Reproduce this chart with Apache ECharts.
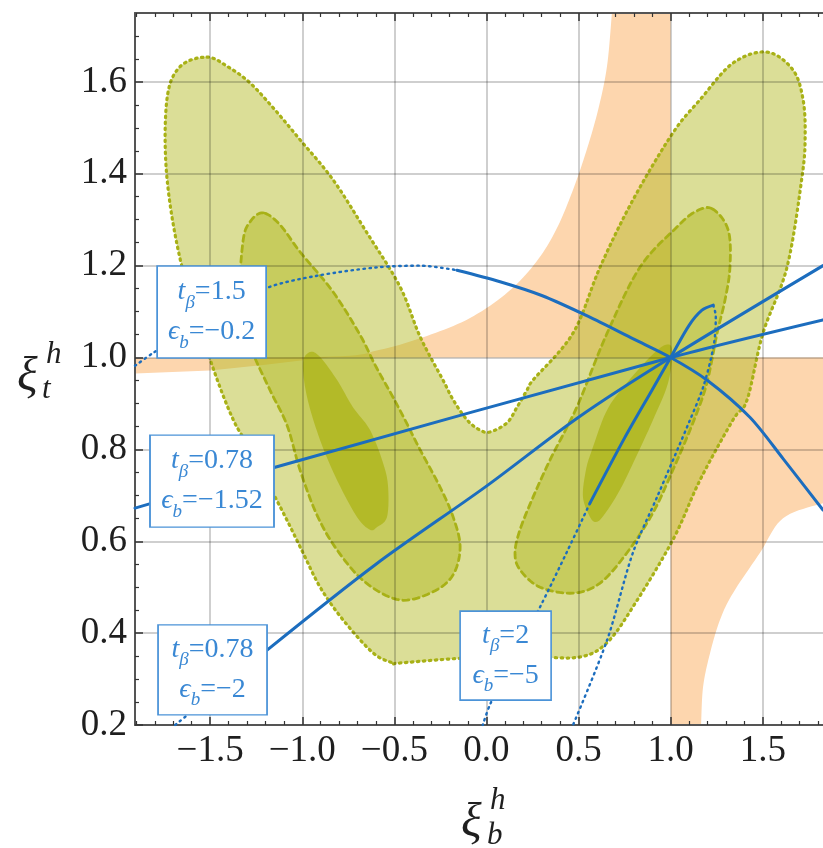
<!DOCTYPE html>
<html><head><meta charset="utf-8">
<script src="https://cdn.jsdelivr.net/npm/echarts@6/dist/echarts.min.js"></script>
<style>html,body{margin:0;padding:0;background:#fff}#c{width:823px;height:848px}</style>
</head><body><div id="c"></div>
<script>
// ---------- axis ranges and ticks ----------
const X_MIN = -1.908, X_MAX = 1.827, Y_MIN = 0.2, Y_MAX = 1.75;
const xMajorTicks = [-1.5, -1, -0.5, 0, 0.5, 1, 1.5];
const xMinorTicks = [-1.9,-1.8,-1.7,-1.6,-1.4,-1.3,-1.2,-1.1,-0.9,-0.8,-0.7,-0.6,-0.4,-0.3,-0.2,-0.1,0.1,0.2,0.3,0.4,0.6,0.7,0.8,0.9,1.1,1.2,1.3,1.4,1.6,1.7,1.8];
const yMajorTicks = [0.2, 0.4, 0.6, 0.8, 1.0, 1.2, 1.4, 1.6];
const yMinorTicks = [0.25,0.3,0.35,0.45,0.5,0.55,0.65,0.7,0.75,0.85,0.9,0.95,1.05,1.1,1.15,1.25,1.3,1.35,1.45,1.5,1.55,1.65,1.7];

// ---------- orange bands (straight edges + curved edge) ----------
const orangeUpperEdge = [[-1.908,0.965],[-1.5,0.972],[-1.2,0.984],[-0.95,0.996],[-0.85,1.0],[1.0,1.0],[1.0,1.8],[0.69,1.8]];
const orangeUpperCurve = [[0.69,1.8],[0.681,1.750],[0.654,1.633],[0.606,1.539],[0.541,1.448],[0.465,1.360],[0.378,1.278],
  [0.270,1.208],[0.118,1.143],[-0.089,1.086],[-0.323,1.047],[-0.578,1.017],[-0.849,1.002],[-1.908,0.999]];
const orangeLowerEdge = [[1.0,0.15],[1.0,1.0],[1.95,1.0],[1.95,0.695]];
const orangeLowerCurve = [[1.95,0.695],[1.827,0.683],[1.61,0.650],[1.485,0.575],[1.338,0.487],[1.268,0.429],
  [1.214,0.357],[1.176,0.283],[1.165,0.2],[1.16,0.15]];

// ---------- green confidence regions ----------
const outerRegion = [[-1.517,1.654],[-1.40,1.632],[-1.284,1.598],[-1.15,1.54],[-1.012,1.474],[-0.833,1.387],[-0.648,1.271],
  [-0.469,1.154],[-0.36,1.045],[-0.236,0.951],[-0.181,0.908],[-0.105,0.864],[-0.035,0.842],[0.02,0.838],[0.112,0.858],
  [0.166,0.892],[0.22,0.929],[0.253,0.951],[0.47,1.053],[0.617,1.197],[0.795,1.343],[1.012,1.489],[1.159,1.561],
  [1.338,1.641],[1.523,1.665],[1.664,1.626],[1.719,1.561],[1.73,1.48],[1.713,1.393],[1.632,1.197],[1.501,1.053],
  [1.415,0.908],[1.338,0.864],[1.159,0.733],[1.012,0.603],[0.795,0.457],[0.654,0.379],[0.508,0.348],[0.253,0.348],
  [-0.105,0.346],[-0.469,0.335],[-0.507,0.335],[-0.616,0.357],[-0.779,0.429],[-0.903,0.500],[-0.996,0.575],
  [-1.083,0.646],[-1.175,0.718],[-1.265,0.792],[-1.374,0.864],[-1.501,0.997],[-1.653,1.197],[-1.735,1.393],
  [-1.735,1.561],[-1.664,1.633]];
const middleLeft = [[-1.213,1.315],[-1.284,1.295],[-1.322,1.252],[-1.338,1.125],[-1.284,1.027],[-1.175,0.929],
  [-1.083,0.853],[-1.012,0.755],[-0.920,0.657],[-0.811,0.581],[-0.659,0.511],[-0.469,0.472],[-0.290,0.490],
  [-0.181,0.527],[-0.143,0.588],[-0.181,0.653],[-0.252,0.718],[-0.360,0.799],[-0.442,0.864],[-0.508,0.914],
  [-0.605,0.984],[-0.686,1.049],[-0.833,1.143],[-1.012,1.230],[-1.121,1.289]];
const middleRight = [[1.225,1.324],[1.312,1.278],[1.322,1.197],[1.295,1.125],[1.252,1.053],[1.197,0.945],
  [1.127,0.864],[1.012,0.755],[0.904,0.662],[0.763,0.575],[0.617,0.509],[0.470,0.487],[0.291,0.500],[0.182,0.538],
  [0.155,0.575],[0.182,0.625],[0.253,0.696],[0.345,0.777],[0.438,0.849],[0.508,0.908],[0.655,1.053],[0.834,1.197],
  [1.034,1.284],[1.132,1.317]];
const innerLeft = [[-0.957,1.012],[-0.996,0.988],[-0.974,0.914],[-0.903,0.820],[-0.811,0.733],[-0.703,0.653],
  [-0.632,0.625],[-0.594,0.631],[-0.540,0.653],[-0.534,0.718],[-0.561,0.770],[-0.632,0.842],[-0.725,0.892],
  [-0.811,0.951],[-0.903,1.001]];
const innerRight = [[0.562,0.653],[0.524,0.696],[0.540,0.755],[0.573,0.799],[0.655,0.886],[0.763,0.945],
  [0.888,1.001],[0.969,1.027],[1.008,1.016],[0.986,0.945],[0.904,0.864],[0.817,0.788],[0.725,0.712],
  [0.638,0.657],[0.595,0.642]];

// ---------- blue parameter curves ----------
const curveA = [[-0.16,1.19],[0.074,1.165],[0.3,1.135],[0.55,1.09],[0.8,1.04],[1.0,1.0],[1.2,0.95],[1.43,0.87],
  [1.61,0.78],[1.827,0.668]];
const curveADotted = [[-1.908,0.982],[-1.81,1.01],[-1.5,1.09],[-1.19,1.152],[-0.92,1.178],[-0.6,1.196],[-0.36,1.2],[-0.16,1.19]];
const curveB = [[-1.908,0.672],[-1.157,0.760],[1.0,1.0],[1.827,1.082]];
const curveC = [[-1.191,0.363],[-0.6,0.55],[0.0,0.72],[0.5,0.87],[1.0,1.0],[1.827,1.2]];
const curveCDotted = [[-1.69,0.2],[-1.191,0.363]];
const curveD = [[0.562,0.683],[0.75,0.825],[0.9,0.93],[1.0,1.0],[1.1,1.07],[1.17,1.103],[1.231,1.114]];
const curveDDottedUp = [[1.231,1.114],[1.245,1.09],[1.235,1.03],[1.18,0.94],[1.105,0.864],[0.926,0.696],
  [0.795,0.575],[0.655,0.385],[0.47,0.2]];
const curveDDottedDown = [[0.562,0.683],[0.437,0.577],[0.291,0.457],[0.15,0.35],[0.02,0.245],[-0.02,0.2]];

// ---------- annotation boxes ----------
const boxCenters = [[-1.492,1.099],[-1.490,0.731],[-1.487,0.320],[0.104,0.351]];
const boxTanBeta = ['1.5','0.78','0.78','2'];
const boxEpsB = ['−0.2','−1.52','−2','−5'];

// ---------- styling ----------
const BLUE = '#1C6DBE';
const SERIF = '"Liberation Serif","DejaVu Serif",serif';
const boxSizes = [[109,92],[124,92],[109,90],[91,89]];

function catmull(pts, closed, n) {
  const out = [], L = pts.length;
  const get = i => closed ? pts[((i % L) + L) % L] : pts[Math.max(0, Math.min(L - 1, i))];
  const segs = closed ? L : L - 1;
  for (let i = 0; i < segs; i++) {
    const p0 = get(i - 1), p1 = get(i), p2 = get(i + 1), p3 = get(i + 2);
    for (let k = 0; k < n; k++) {
      const t = k / n, t2 = t * t, t3 = t2 * t;
      const f = j => 0.5 * (2 * p1[j] + (-p0[j] + p2[j]) * t + (2 * p0[j] - 5 * p1[j] + 4 * p2[j] - p3[j]) * t2 + (-p0[j] + 3 * p1[j] - 3 * p2[j] + p3[j]) * t3);
      out.push([f(0), f(1)]);
    }
  }
  if (!closed) out.push(pts[L - 1]);
  return out;
}

// closed smooth region
function region(name, pts, fill, stroke, dash, lw) {
  return {
    type: 'custom', name, coordinateSystem: 'cartesian2d', xAxisIndex: 0, yAxisIndex: 0,
    clip: true, silent: true, z: 1, data: pts,
    renderItem: (params, api) => {
      if (params.dataIndex !== 0) return null;
      const px = pts.map(p => api.coord(p));
      return {
        type: 'polygon',
        shape: { points: catmull(px, true, 10) },
        style: { fill, stroke: stroke || null, lineWidth: lw || 0, lineDash: dash || null, lineCap: 'round' }
      };
    }
  };
}
// band: straight edge polyline followed by a smooth curved edge
function band(name, edge, curve, fill) {
  return {
    type: 'custom', name, coordinateSystem: 'cartesian2d', xAxisIndex: 0, yAxisIndex: 0,
    clip: true, silent: true, z: 1, data: edge.concat(curve),
    renderItem: (params, api) => {
      if (params.dataIndex !== 0) return null;
      const e = edge.map(p => api.coord(p));
      const c = catmull(curve.map(p => api.coord(p)), false, 10);
      return { type: 'polygon', shape: { points: e.concat(c) }, style: { fill } };
    }
  };
}
function line(name, pts, type, width) {
  return {
    type: 'line', name, data: pts, smooth: 0.3, symbol: 'none', silent: true, z: 3, clip: true,
    lineStyle: { color: BLUE, width, type, cap: 'round' }
  };
}

const OLIVE = '#A8B116';
const GREEN = 'rgba(176,184,28,0.46)';
const DOT = [1.5, 4.5];
const series = [
  band('orangeUpper', orangeUpperEdge, orangeUpperCurve, '#FDD6AE'),
  band('orangeLower', orangeLowerEdge, orangeLowerCurve, '#FDD6AE'),
  region('outer', outerRegion, GREEN, OLIVE, [1.5, 4.5], 3.2),
  region('middleL', middleLeft, GREEN, OLIVE, [6, 4.5], 2.8),
  region('middleR', middleRight, GREEN, OLIVE, [6, 4.5], 2.8),
  region('innerL', innerLeft, 'rgba(166,175,8,0.62)'),
  region('innerR', innerRight, 'rgba(166,175,8,0.62)'),
  line('A', curveA, 'solid', 3),
  line('Adot', curveADotted, DOT, 2.4),
  line('B', curveB, 'solid', 3),
  line('C', curveC, 'solid', 3),
  line('Cdot', curveCDotted, DOT, 2.4),
  line('D', curveD, 'solid', 3),
  line('Ddot1', curveDDottedUp, DOT, 2.4),
  line('Ddot2', curveDDottedDown, DOT, 2.4),
  {
    type: 'scatter', name: 'boxes', z: 4, silent: true,
    data: boxCenters.map((c, i) => ({
      value: c, symbolSize: boxSizes[i],
      label: { formatter: `{it|t}{sb|β}{n|=${boxTanBeta[i]}}\n{it|ϵ}{sb|b}{n|=${boxEpsB[i]}}` }
    })),
    symbol: 'rect',
    itemStyle: { color: '#fff', borderColor: '#4B93D8', borderWidth: 1.6, opacity: 1 },
    label: {
      show: true, position: 'inside', align: 'center', color: '#3A88D4',
      rich: {
        it: { fontFamily: SERIF, fontStyle: 'italic', fontSize: 28, lineHeight: 40, color: '#3A88D4' },
        sb: { fontFamily: SERIF, fontStyle: 'italic', fontSize: 19, lineHeight: 28, verticalAlign: 'bottom', color: '#3A88D4' },
        n: { fontFamily: SERIF, fontSize: 28, lineHeight: 40, color: '#3A88D4' }
      }
    }
  }
];

const fmt = v => (v < 0 ? '−' : '') + Math.abs(v).toFixed(1);
const axLine = { show: true, onZero: false, lineStyle: { color: '#555', width: 2 } };
const noLine = { show: false, onZero: false };
const labelStyle = { fontFamily: SERIF, fontSize: 37, color: '#1f1f1f', lineHeight: 37 };

const option = {
  animation: false,
  backgroundColor: '#fff',
  grid: { left: 135, right: 0, top: 13, bottom: 123, containLabel: false },
  xAxis: [
    { type: 'value', min: X_MIN, max: X_MAX, position: 'bottom', z: 2,
      axisLine: axLine,
      axisTick: { show: true, inside: true, length: 8, customValues: xMajorTicks, lineStyle: { color: '#333', width: 1.5 } },
      axisLabel: Object.assign({ customValues: xMajorTicks, formatter: fmt, margin: 8 }, labelStyle),
      splitLine: { show: true, lineStyle: { color: 'rgba(0,0,0,0.25)', width: 1.5 } } },
    { type: 'value', min: X_MIN, max: X_MAX, position: 'bottom', z: 2,
      axisLine: noLine,
      axisTick: { show: true, inside: true, length: 4, customValues: xMinorTicks, lineStyle: { color: '#333', width: 1.2 } },
      axisLabel: { show: false }, splitLine: { show: false } },
    { type: 'value', min: X_MIN, max: X_MAX, position: 'top', z: 2,
      axisLine: axLine,
      axisTick: { show: true, inside: true, length: 8, customValues: xMajorTicks, lineStyle: { color: '#333', width: 1.5 } },
      axisLabel: { show: false }, splitLine: { show: false } },
    { type: 'value', min: X_MIN, max: X_MAX, position: 'top', z: 2,
      axisLine: noLine,
      axisTick: { show: true, inside: true, length: 4, customValues: xMinorTicks, lineStyle: { color: '#333', width: 1.2 } },
      axisLabel: { show: false }, splitLine: { show: false } }
  ],
  yAxis: [
    { type: 'value', min: Y_MIN, max: Y_MAX, position: 'left', z: 2,
      axisLine: axLine,
      axisTick: { show: true, inside: true, length: 8, customValues: yMajorTicks, lineStyle: { color: '#333', width: 1.5 } },
      axisLabel: Object.assign({ customValues: yMajorTicks, formatter: v => v.toFixed(1), margin: 8 }, labelStyle),
      splitLine: { show: true, lineStyle: { color: 'rgba(0,0,0,0.25)', width: 1.5 } } },
    { type: 'value', min: Y_MIN, max: Y_MAX, position: 'left', z: 2,
      axisLine: noLine,
      axisTick: { show: true, inside: true, length: 4, customValues: yMinorTicks, lineStyle: { color: '#333', width: 1.2 } },
      axisLabel: { show: false }, splitLine: { show: false } }
  ],
  graphic: [
    { type: 'text', x: 17, y: 377, z: 10, style: { text: 'ξ', font: 'italic 48px ' + SERIF, fill: '#1f1f1f', verticalAlign: 'middle' } },
    { type: 'text', x: 46, y: 355, z: 10, style: { text: 'h', font: 'italic 31px ' + SERIF, fill: '#1f1f1f', verticalAlign: 'middle' } },
    { type: 'text', x: 42, y: 390, z: 10, style: { text: 't', font: 'italic 31px ' + SERIF, fill: '#1f1f1f', verticalAlign: 'middle' } },
    { type: 'text', x: 461, y: 823, z: 10, style: { text: 'ξ', font: 'italic 48px ' + SERIF, fill: '#1f1f1f', verticalAlign: 'middle' } },
    { type: 'text', x: 490, y: 801, z: 10, style: { text: 'h', font: 'italic 31px ' + SERIF, fill: '#1f1f1f', verticalAlign: 'middle' } },
    { type: 'text', x: 487, y: 836, z: 10, style: { text: 'b', font: 'italic 31px ' + SERIF, fill: '#1f1f1f', verticalAlign: 'middle' } }
  ],
  series
};
const chart = echarts.init(document.getElementById('c'), null, { renderer: 'canvas' });
chart.setOption(option);
</script>
</body></html>
